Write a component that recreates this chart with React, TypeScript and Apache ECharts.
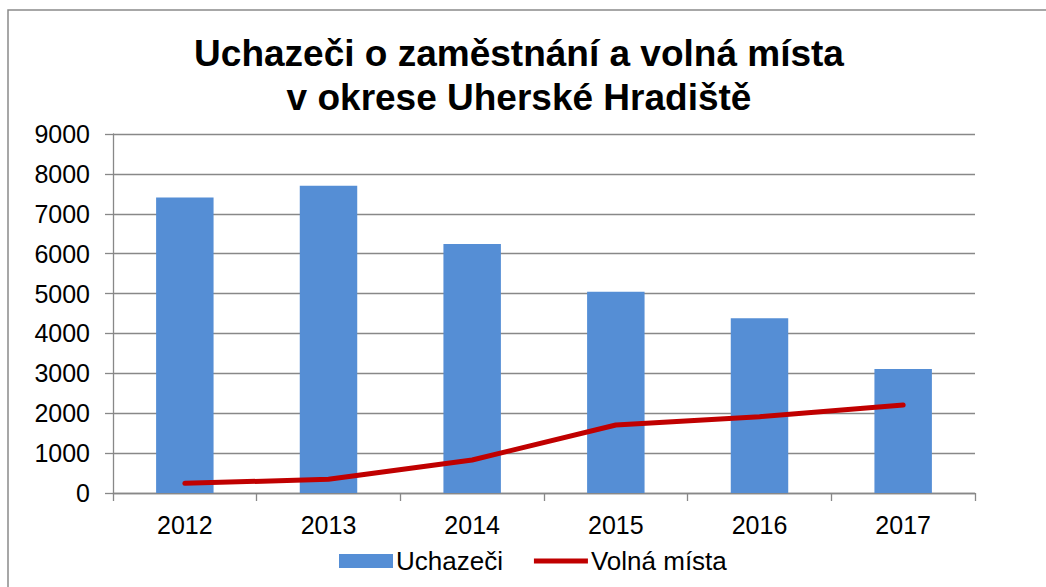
import React, { useEffect, useRef } from "react";
import * as echarts from "echarts";

const years = ["2012", "2013", "2014", "2015", "2016", "2017"];
const uchazeci = [7410, 7700, 6240, 5045, 4380, 3110];
const volnaMista = [243, 343, 827, 1705, 1912, 2205];
const titleLines = ["Uchazeči o zaměstnání a volná místa", "v okrese Uherské Hradiště"];
const seriesNames = ["Uchazeči", "Volná místa"];

const FONT = "'Liberation Sans', Arial, sans-serif";
const GRID_COLOR = "#888888";

export default function App() {
  const ref = useRef<HTMLDivElement>(null);
  useEffect(() => {
    if (!ref.current) return;
    const chart = echarts.init(ref.current, null, { renderer: "svg" });
    chart.setOption({
      animation: false,
      backgroundColor: "#ffffff",
      textStyle: { fontFamily: FONT },
      title: {
        text: titleLines.join("\n"),
        left: 514,
        top: 26,
        textAlign: "center",
        textStyle: {
          fontFamily: FONT,
          fontSize: 37,
          fontWeight: "bold",
          color: "#000000",
          lineHeight: 44,
        },
      },
      graphic: [
        {
          type: "rect",
          shape: { x: 8, y: 10, width: 1100, height: 650 },
          style: { fill: "none", stroke: "#8a8a8a", lineWidth: 1.5 },
          silent: true,
          z: 100,
        },
      ],
      legend: {
        left: 334,
        top: 543,
        itemWidth: 54,
        itemHeight: 14,
        itemGap: 31,
        textStyle: { fontFamily: FONT, fontSize: 26, color: "#000000", padding: [0, 0, 0, -2] },
        data: [
          { name: seriesNames[0], icon: "rect" },
          { name: seriesNames[1], icon: "path://M0,0 H54 V5 H0 Z" },
        ],
      },
      grid: { left: 113, right: 71, top: 134, bottom: 94, containLabel: false },
      xAxis: {
        type: "category",
        data: years,
        boundaryGap: true,
        axisLine: { show: true, lineStyle: { color: GRID_COLOR, width: 1.3 } },
        axisTick: { show: true, length: 8, lineStyle: { color: GRID_COLOR, width: 1.3 } },
        axisLabel: { fontFamily: FONT, fontSize: 25, color: "#000000", margin: 19 },
      },
      yAxis: {
        type: "value",
        min: 0,
        max: 9000,
        interval: 1000,
        axisLine: { show: true, lineStyle: { color: GRID_COLOR, width: 1.3 } },
        axisTick: { show: true, length: 8, lineStyle: { color: GRID_COLOR, width: 1.3 } },
        splitLine: { show: true, lineStyle: { color: GRID_COLOR, width: 1.3 } },
        axisLabel: {
          fontFamily: FONT,
          fontSize: 25,
          color: "#000000",
          margin: 23,
          formatter: (v: number) => String(v),
        },
      },
      series: [
        {
          name: seriesNames[0],
          type: "bar",
          data: uchazeci,
          barWidth: "40%",
          itemStyle: { color: "#558ed5" },
        },
        {
          name: seriesNames[1],
          type: "line",
          data: volnaMista,
          symbol: "none",
          lineStyle: { color: "#c00000", width: 5, cap: "round", join: "round" },
          itemStyle: { color: "#c00000" },
        },
      ],
    });
    return () => chart.dispose();
  }, []);
  return (
    <div
      ref={ref}
      style={{ position: "fixed", left: 0, top: 0, width: 1046, height: 587 }}
    />
  );
}
